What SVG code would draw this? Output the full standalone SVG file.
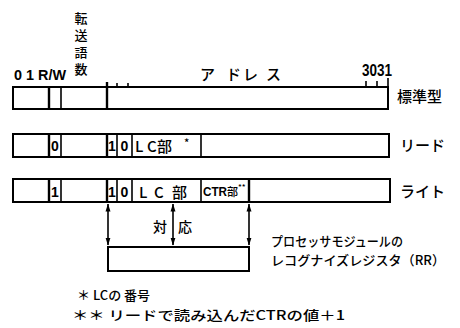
<svg xmlns="http://www.w3.org/2000/svg" width="460" height="328" viewBox="0 0 460 328">
<defs>
<style>
.box{fill:none;stroke:#000;stroke-width:2}
.div{stroke:#000;stroke-width:1.6}
.thk{stroke:#000;stroke-width:2.4}
.t{font-family:"Noto Sans CJK JP","DejaVu Sans",sans-serif;font-weight:500;fill:#000}
.n{font-family:"Liberation Sans Narrow","Liberation Sans","Noto Sans CJK JP",sans-serif;font-weight:bold;fill:#000}
.conn{stroke:#000;stroke-width:1.6;fill:none;marker-start:url(#ah);marker-end:url(#ah)}
</style>
<marker id="ah" viewBox="0 0 8 6" refX="7.5" refY="3" markerWidth="8" markerHeight="6" markerUnits="userSpaceOnUse" orient="auto-start-reverse">
<path d="M0,0.5 L8,3 L0,5.5 Z" fill="#000"/>
</marker>
</defs>
<rect width="460" height="328" fill="#fff"/>

<g id="header-labels">
<text class="n" x="14" y="80" font-size="14" textLength="52" lengthAdjust="spacingAndGlyphs">0 1 R/W</text>
<text class="t" x="81" y="12" font-size="13" writing-mode="vertical-rl" letter-spacing="4">転送語数</text>
<text class="t" x="200 226 243 266" y="80" font-size="15">アドレス</text>
<text class="n" x="362" y="76" font-size="17" textLength="30" lengthAdjust="spacingAndGlyphs">3031</text>
</g>

<g id="row-standard">
<rect class="box" x="13" y="87" width="375" height="22"/>
<line class="thk" x1="49" y1="87" x2="49" y2="109"/>
<line class="div" x1="61" y1="87" x2="61" y2="109"/>
<line class="thk" x1="107" y1="82" x2="107" y2="109"/>
<line class="div" x1="117" y1="83" x2="117" y2="87"/>
<line class="div" x1="128" y1="83" x2="128" y2="87"/>
<line class="div" x1="366" y1="81" x2="366" y2="87"/>
<line class="div" x1="377" y1="81" x2="377" y2="87"/>
<line class="div" x1="388" y1="78" x2="388" y2="87"/>
<text class="t" x="397" y="102" font-size="15">標準型</text>
</g>

<g id="row-read">
<rect class="box" x="13" y="134" width="376" height="23"/>
<line class="thk" x1="49" y1="134" x2="49" y2="157"/>
<line class="div" x1="61" y1="134" x2="61" y2="157"/>
<line class="thk" x1="107" y1="134" x2="107" y2="157"/>
<line class="div" x1="117" y1="134" x2="117" y2="157"/>
<line class="div" x1="132" y1="134" x2="132" y2="157"/>
<line class="div" x1="201" y1="134" x2="201" y2="157"/>
<text class="n" x="55" y="151" font-size="14" text-anchor="middle">0</text>
<text class="n" x="112" y="151" font-size="14" text-anchor="middle">1</text>
<text class="n" x="124.5" y="151" font-size="14" text-anchor="middle">0</text>
<text class="t" x="135 147 157" y="152" font-size="15">LC部</text>
<text class="t" x="184" y="147" font-size="11">*</text>
<text class="t" x="400" y="151" font-size="15">リード</text>
</g>

<g id="row-write">
<rect class="box" x="13" y="179" width="377" height="23"/>
<line class="thk" x1="49" y1="179" x2="49" y2="202"/>
<line class="div" x1="61" y1="179" x2="61" y2="202"/>
<line class="thk" x1="107" y1="179" x2="107" y2="202"/>
<line class="div" x1="117" y1="179" x2="117" y2="202"/>
<line class="div" x1="132" y1="179" x2="132" y2="202"/>
<line class="div" x1="201" y1="179" x2="201" y2="202"/>
<line class="thk" x1="249" y1="179" x2="249" y2="202"/>
<text class="n" x="55" y="197" font-size="14" text-anchor="middle">1</text>
<text class="n" x="112" y="197" font-size="14" text-anchor="middle">1</text>
<text class="n" x="124.5" y="197" font-size="14" text-anchor="middle">0</text>
<text class="t" x="139 154 172" y="198" font-size="15">LC部</text>
<text class="n" x="203" y="196" font-size="12" textLength="24" lengthAdjust="spacingAndGlyphs">CTR</text>
<text class="t" x="227" y="196" font-size="11">部</text>
<text class="t" x="238" y="190" font-size="8">**</text>
<text class="t" x="400" y="197" font-size="15">ライト</text>
</g>

<g id="connectors">
<line class="conn" x1="108" y1="204" x2="108" y2="245"/>
<line class="conn" x1="173" y1="204" x2="173" y2="245"/>
<line class="conn" x1="249" y1="204" x2="249" y2="245"/>
</g>

<g id="correspond-label">
<text class="t" x="160" y="232" font-size="14" text-anchor="middle">対</text>
<text class="t" x="185" y="232" font-size="14" text-anchor="middle">応</text>
</g>

<g id="rr-register">
<rect class="box" x="108" y="247" width="141" height="24"/>
<text class="t" x="271" y="246" font-size="13" textLength="132" lengthAdjust="spacingAndGlyphs">プロセッサモジュールの</text>
<text class="t" x="271" y="265" font-size="13" textLength="174" lengthAdjust="spacingAndGlyphs">レコグナイズレジスタ（RR）</text>
</g>

<g id="notes">
<text class="t" x="77" y="300" font-size="13">＊ LCの 番号</text>
<text class="t" x="72" y="320" font-size="13" textLength="273" lengthAdjust="spacingAndGlyphs">＊＊ リードで読み込んだCTRの値＋1</text>
</g>
</svg>
